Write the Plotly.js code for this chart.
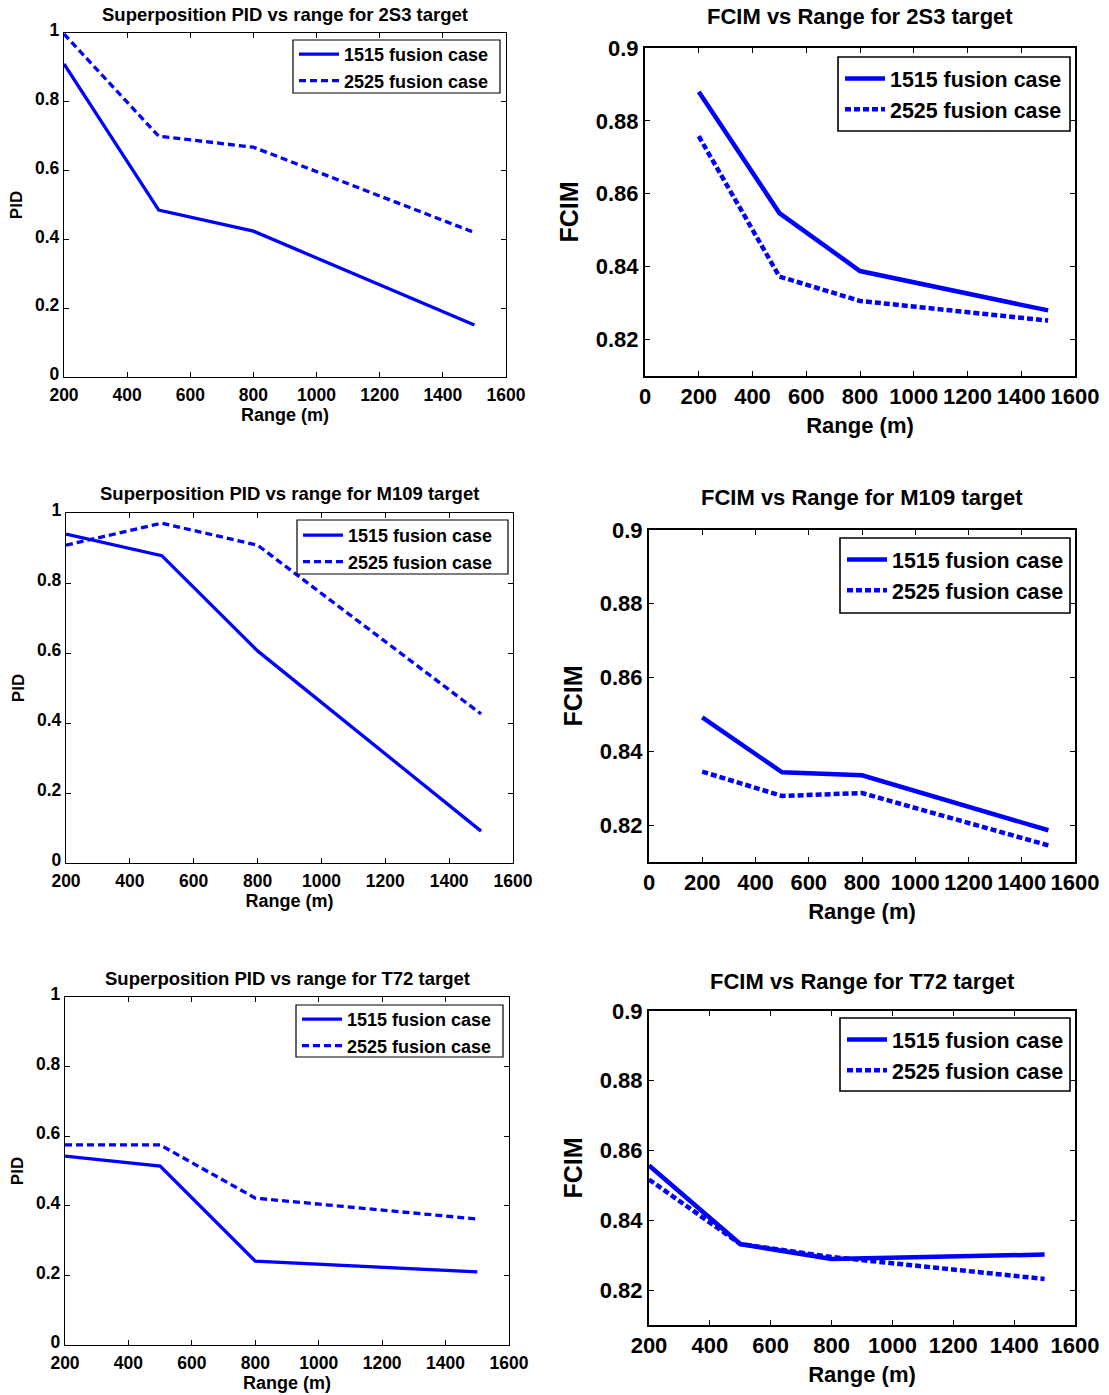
<!DOCTYPE html>
<html>
<head>
<meta charset="utf-8">
<script src="https://cdn.plot.ly/plotly-3.0.1.min.js"></script>
<style>html,body{margin:0;padding:0;background:#fff;}#chart{width:1109px;height:1395px;}</style>
</head>
<body>
<div id="chart"></div>
<script>
// ---- data ----
const rangeM = [200, 500, 800, 1500];
const seriesNames = ["1515 fusion case", "2525 fusion case"];

const pid2S3_1515 = [0.91, 0.485, 0.424, 0.151];
const pid2S3_2525 = [0.997, 0.70, 0.668, 0.42];
const fcim2S3_1515 = [0.888, 0.8547, 0.8388, 0.828];
const fcim2S3_2525 = [0.8758, 0.8373, 0.8306, 0.8252];

const pidM109_1515 = [0.94, 0.878, 0.606, 0.091];
const pidM109_2525 = [0.908, 0.971, 0.908, 0.426];
const fcimM109_1515 = [0.8492, 0.8343, 0.8335, 0.8186];
const fcimM109_2525 = [0.8345, 0.8279, 0.8287, 0.8145];

const pidT72_1515 = [0.543, 0.514, 0.241, 0.21];
const pidT72_2525 = [0.575, 0.575, 0.422, 0.362];
const fcimT72_1515 = [0.8557, 0.8332, 0.8289, 0.8302];
const fcimT72_2525 = [0.8517, 0.8332, 0.8295, 0.8232];

const titles = [
  "Superposition PID vs range for 2S3 target",
  "FCIM vs Range for 2S3 target",
  "Superposition PID vs range for M109 target",
  "FCIM vs Range for M109 target",
  "Superposition PID vs range for T72 target",
  "FCIM vs Range for T72 target"
];
const pidTicks = [0, 0.2, 0.4, 0.6, 0.8, 1];
const fcimTicks = [0.82, 0.84, 0.86, 0.88, 0.9];

// ---- layout helpers ----
const W = 1109, H = 1395;
const BLUE = "#0000ff";
const LF = "Liberation Sans, Arial, sans-serif";

// panel boxes in pixels [left, right, top, bottom]
const boxes = [
  [64, 506, 33, 377],
  [645, 1075, 48, 376],
  [66, 513, 513, 863],
  [649, 1075, 530, 862],
  [65, 509, 997, 1345],
  [649, 1075, 1011, 1325]
];
// legend frames in pixels [left, right, top, bottom]
const legendBox = [
  [293, 500, 40, 93],
  [838, 1070, 57, 131],
  [297, 508, 520, 574],
  [840, 1070, 538, 613],
  [296, 503, 1005, 1057],
  [840, 1070, 1018, 1091]
];
// y (px) of first legend row
const legendRow = [54, 78, 535, 559, 1019, 1039];
const titleY = [14, 17, 494, 498, 978, 981];

const panels = [
  {a: pid2S3_1515, b: pid2S3_2525, pid: true, xr: [200, 1600]},
  {a: fcim2S3_1515, b: fcim2S3_2525, pid: false, xr: [0, 1600]},
  {a: pidM109_1515, b: pidM109_2525, pid: true, xr: [200, 1600]},
  {a: fcimM109_1515, b: fcimM109_2525, pid: false, xr: [0, 1600]},
  {a: pidT72_1515, b: pidT72_2525, pid: true, xr: [200, 1600]},
  {a: fcimT72_1515, b: fcimT72_2525, pid: false, xr: [200, 1600]}
];

const data = [];
const layout = {
  width: W, height: H,
  margin: {l: 0, r: 0, t: 0, b: 0},
  paper_bgcolor: "#fff", plot_bgcolor: "#fff",
  showlegend: true,
  annotations: [],
  shapes: []
};

panels.forEach((p, i) => {
  const n = i + 1;
  const sx = n === 1 ? "" : String(n);
  const legName = n === 1 ? "legend" : "legend" + n;
  const fs = p.pid ? 18 : 21.4;
  const lw = p.pid ? 3.3 : 4.5;
  const dash = p.pid ? "7px,4px" : "6px,3px";
  const bx = boxes[i];
  const lb = legendBox[i];

  data.push({
    x: rangeM, y: p.a, type: "scatter", mode: "lines", name: seriesNames[0],
    xaxis: "x" + sx, yaxis: "y" + sx, legend: legName,
    line: {color: BLUE, width: lw}
  });
  data.push({
    x: rangeM, y: p.b, type: "scatter", mode: "lines", name: seriesNames[1],
    xaxis: "x" + sx, yaxis: "y" + sx, legend: legName,
    line: {color: BLUE, width: lw, dash: dash}
  });

  const axCommon = {
    showline: true, linecolor: "#000", linewidth: p.pid ? 1.2 : 2,
    mirror: "ticks", ticks: "inside", ticklen: 5, tickcolor: "#000",
    tickwidth: 1, showgrid: false, zeroline: false, fixedrange: true,
    tickangle: 0,
    tickfont: {family: LF, size: p.pid ? 17.5 : 22, color: "#000", weight: "bold"}
  };
  layout["xaxis" + sx] = Object.assign({}, axCommon, {
    domain: [bx[0] / W, bx[1] / W],
    anchor: "y" + sx,
    range: p.xr, tick0: 0, dtick: 200,
    ticklabelstandoff: p.pid ? 2 : 0,
    title: {text: "Range (m)", standoff: p.pid ? 0 : 9,
            font: {family: LF, size: p.pid ? 18 : 22, color: "#000", weight: "bold"}}
  });
  layout["yaxis" + sx] = Object.assign({}, axCommon, {
    domain: [1 - bx[3] / H, 1 - bx[2] / H],
    anchor: "x" + sx,
    range: p.pid ? [0, 1] : [0.81, 0.9],
    tickmode: "array",
    tickvals: p.pid ? pidTicks : fcimTicks,
    ticktext: (p.pid ? pidTicks : fcimTicks).map(v => String(v)),
    ticklabelshift: p.pid ? -3 : 0,
    title: {text: p.pid ? "PID" : "FCIM", standoff: p.pid ? 8 : 10,
            font: {family: LF, size: p.pid ? 17 : 25, color: "#000", weight: "bold"}}
  });

  // legend frame
  layout.shapes.push({
    type: "rect", xref: "paper", yref: "paper", layer: "above",
    x0: lb[0] / W, x1: lb[1] / W, y0: 1 - lb[3] / H, y1: 1 - lb[2] / H,
    fillcolor: "#fff", line: {color: "#000", width: p.pid ? 1.2 : 1.6}
  });
  layout[legName] = {
    x: (lb[0] + (p.pid ? 1 : 2)) / W, y: 1 - (legendRow[i] - (p.pid ? 18 : 20)) / H,
    xanchor: "left", yanchor: "top",
    bgcolor: "rgba(0,0,0,0)", borderwidth: 0,
    font: {family: LF, size: fs, color: "#000", weight: "bold"},
    tracegroupgap: p.pid ? 0 : 6, itemwidth: 40
  };
  layout.annotations.push({
    text: titles[i], xref: "paper", yref: "paper",
    x: (bx[0] + bx[1]) / 2 / W, y: 1 - titleY[i] / H,
    xanchor: "center", yanchor: "middle", showarrow: false,
    font: {family: LF, size: p.pid ? 18.5 : 22, color: "#000", weight: "bold"}
  });
});

Plotly.newPlot("chart", data, layout, {staticPlot: true, displayModeBar: false});
</script>
</body>
</html>
